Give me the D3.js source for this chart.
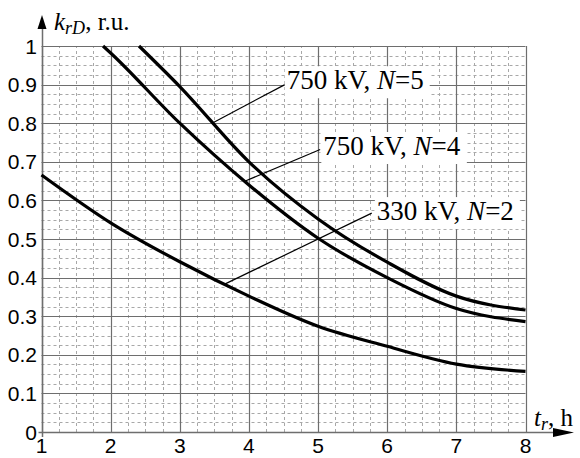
<!DOCTYPE html>
<html><head><meta charset="utf-8">
<script src="https://cdn.jsdelivr.net/npm/d3@7"></script>
<style>html,body{margin:0;padding:0;background:#fff;}svg{display:block;}</style>
</head><body>
<svg id="c" width="580" height="458"></svg>
<script>
// ---- data ----
const xTicks = [1,2,3,4,5,6,7,8];
const yTicks = [0,0.1,0.2,0.3,0.4,0.5,0.6,0.7,0.8,0.9,1];
const yTickLabels = ["0","0.1","0.2","0.3","0.4","0.5","0.6","0.7","0.8","0.9","1"];
const t750N5 = [2.41,3,4,5,6,7,8];
const k750N5 = [1.0,0.895,0.70,0.552,0.44,0.352,0.316];
const t750N4 = [1.89,2,3,4,5,6,7,8];
const k750N4 = [1.0,0.982,0.80,0.64,0.502,0.40,0.32,0.286];
const t330N2 = [1,2,3,4,5,6,7,8];
const k330N2 = [0.666,0.542,0.441,0.352,0.274,0.222,0.176,0.157];
const seriesNames = ["750 kV, N=5","750 kV, N=4","330 kV, N=2"];
// label anchor (data coords) and leader target t on each curve
const labelT = [4.546,5.076,5.85];
const labelK = [0.888,0.7176,0.549];
const leaderStartT = [4.52,5.03,5.776];
const leaderStartK = [0.90,0.732,0.567];
const leaderEndT = [3.48,3.94,3.65];

// ---- chart ----
const svg = d3.select("#c");
const x = d3.scaleLinear().domain([1,8]).range([41.5,525.5]);
const y = d3.scaleLinear().domain([0,1]).range([432,46]);

const grid = svg.append("g");
// minor grid
const xMinor = d3.range(1,8.001,0.25).filter(v=>Math.abs(v-Math.round(v))>1e-6);
const yMinor = d3.range(0,1.0001,0.025).filter(v=>Math.abs(v*10-Math.round(v*10))>1e-6);
grid.selectAll(".xm").data(xMinor).join("line")
  .attr("x1",d=>Math.round(x(d))+0.5).attr("x2",d=>Math.round(x(d))+0.5)
  .attr("y1",y(0)).attr("y2",y(1))
  .attr("stroke","#a8a8a8").attr("stroke-dasharray","3,3").attr("stroke-width",1);
grid.selectAll(".ym").data(yMinor).join("line")
  .attr("y1",d=>Math.round(y(d))+0.5).attr("y2",d=>Math.round(y(d))+0.5)
  .attr("x1",x(1)).attr("x2",x(8))
  .attr("stroke","#a8a8a8").attr("stroke-dasharray","3,3").attr("stroke-width",1);
// major grid
grid.selectAll(".xM").data(xTicks).join("line")
  .attr("x1",d=>Math.round(x(d))+0.5).attr("x2",d=>Math.round(x(d))+0.5)
  .attr("y1",y(0)).attr("y2",y(1))
  .attr("stroke","#6e6e6e").attr("stroke-width",1.2);
grid.selectAll(".yM").data(yTicks).join("line")
  .attr("y1",d=>Math.round(y(d))+0.5).attr("y2",d=>Math.round(y(d))+0.5)
  .attr("x1",x(1)).attr("x2",x(8))
  .attr("stroke","#6e6e6e").attr("stroke-width",1.2);

// axes with arrows
const ax = svg.append("g");
ax.append("line").attr("x1",Math.round(x(1))+0.5).attr("x2",Math.round(x(1))+0.5)
  .attr("y1",y(0)+5).attr("y2",26).attr("stroke","#6e6e6e").attr("stroke-width",1.5);
ax.append("path").attr("d",`M${x(1)+0.5},15 L${x(1)-4},29 L${x(1)+5},29 Z`).attr("fill","#000");
ax.append("line").attr("x1",x(1)-3).attr("x2",556)
  .attr("y1",Math.round(y(0))+0.5).attr("y2",Math.round(y(0))+0.5).attr("stroke","#6e6e6e").attr("stroke-width",1.5);
ax.append("path").attr("d",`M574,${y(0)+0.5} L553,${y(0)-4} L553,${y(0)+5} Z`).attr("fill","#000");

// tick labels
svg.append("g").selectAll("text").data(yTicks).join("text")
  .attr("x",37).attr("y",d=>y(d)).attr("dy","0.36em")
  .attr("text-anchor","end")
  .attr("font-family","Liberation Sans, Arial, sans-serif").attr("font-size",21)
  .text((d,i)=>yTickLabels[i]);
svg.append("g").selectAll("text").data(xTicks).join("text")
  .attr("x",d=>x(d)).attr("y",453)
  .attr("text-anchor","middle")
  .attr("font-family","Liberation Sans, Arial, sans-serif").attr("font-size",21)
  .text(d=>d);

// axis titles
const serif = "Liberation Serif, Times New Roman, serif";
const yt = svg.append("text").attr("x",54).attr("y",30).attr("font-family",serif).attr("font-size",25);
yt.append("tspan").attr("font-style","italic").text("k");
yt.append("tspan").attr("font-style","italic").attr("font-size",18).attr("dy",4).text("rD");
yt.append("tspan").attr("dy",-4).text(", r.u.");
const xt = svg.append("text").attr("x",534).attr("y",426).attr("font-family",serif).attr("font-size",25);
xt.append("tspan").attr("font-style","italic").text("t");
xt.append("tspan").attr("font-style","italic").attr("font-size",18).attr("dy",4).text("r");
xt.append("tspan").attr("dy",-4).text(", h");

// curves
const series = [
  {t:t750N5,k:k750N5},
  {t:t750N4,k:k750N4},
  {t:t330N2,k:k330N2}
];
const line = d3.line().x(d=>x(d[0])).y(d=>y(d[1])).curve(d3.curveMonotoneX);
svg.append("g").selectAll("path").data(series).join("path")
  .attr("d",s=>line(s.t.map((v,i)=>[v,s.k[i]])))
  .attr("fill","none").attr("stroke","#000").attr("stroke-width",3.2)
  .attr("stroke-linejoin","round");

// leaders and labels
function kAt(s,t){ return d3.scaleLinear().domain(s.t).range(s.k)(t); }
const lab = svg.append("g");
series.forEach((s,i)=>{
  lab.append("line")
    .attr("x1",x(leaderStartT[i])).attr("y1",y(leaderStartK[i]))
    .attr("x2",x(leaderEndT[i])).attr("y2",y(kAt(s,leaderEndT[i])))
    .attr("stroke","#000").attr("stroke-width",1.2);
  const g = lab.append("g");
  const txt = g.append("text").attr("x",x(labelT[i])).attr("y",y(labelK[i]))
    .attr("font-family",serif).attr("font-size",27);
  const parts = seriesNames[i].split("N");
  txt.append("tspan").text(parts[0]);
  txt.append("tspan").attr("font-style","italic").text("N");
  txt.append("tspan").text(parts[1]);
  const bb = txt.node().getBBox();
  g.insert("rect","text").attr("x",bb.x-2).attr("y",bb.y+1).attr("width",bb.width+8).attr("height",bb.height+2).attr("fill","#fff");
});
</script>
</body></html>
